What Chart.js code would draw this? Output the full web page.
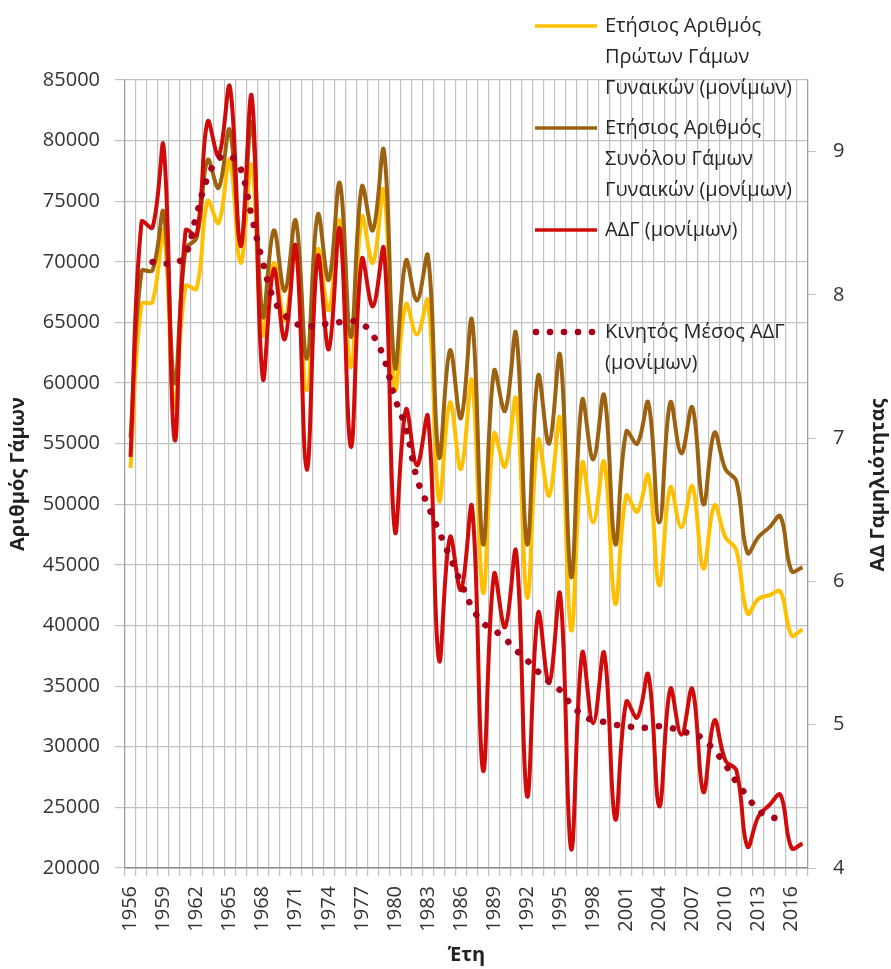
<!DOCTYPE html>
<html>
<head>
<meta charset="utf-8">
<script src="https://cdn.jsdelivr.net/npm/chart.js@4.4.1/dist/chart.umd.min.js"></script>
<style>
  html, body { margin: 0; padding: 0; background: #fff; }
  canvas { display: block; }
</style>
</head>
<body>
<canvas id="chart" width="891" height="969"></canvas>
<script>
// Έτη
const years = [
  '1956','1957','1958','1959','1960','1961','1962','1963','1964','1965',
  '1966','1967','1968','1969','1970','1971','1972','1973','1974','1975',
  '1976','1977','1978','1979','1980','1981','1982','1983','1984','1985',
  '1986','1987','1988','1989','1990','1991','1992','1993','1994','1995',
  '1996','1997','1998','1999','2000','2001','2002','2003','2004','2005',
  '2006','2007','2008','2009','2010','2011','2012','2013','2014','2015',
  '2016','2017'
];

// Πρώτοι γάμοι γυναικών (αριστερός άξονας)
const firstMarriages = [
  53000, 66500, 66700, 72500, 58000, 68000, 67800, 75000, 73200, 78400,
  69900, 78000, 64000, 69900, 65200, 71000, 59400, 71000, 66000, 73400,
  61300, 73700, 69900, 75900, 59500, 66500, 64000, 66800, 50300, 58400,
  52900, 60200, 42700, 55800, 53100, 58700, 42300, 55300, 50700, 57100,
  39600, 53400, 48500, 53500, 41800, 50700, 49400, 52400, 43300, 51400,
  48100, 51500, 44700, 49900, 47300, 46200, 41000, 42200, 42500, 42800,
  39200, 39700
];

// Σύνολο γάμων γυναικών (αριστερός άξονας)
const totalMarriages = [
  55500, 69200, 69300, 74100, 60000, 71000, 72000, 78400, 76100, 80900,
  71500, 81500, 65500, 72600, 67600, 73400, 62000, 73900, 68500, 76500,
  63800, 76200, 72600, 79200, 61300, 70100, 66800, 70500, 53900, 62700,
  57100, 65200, 46700, 61000, 57700, 64100, 46700, 60600, 55000, 62300,
  44000, 58600, 53700, 59000, 46700, 56000, 55000, 58400, 48500, 58400,
  54200, 58000, 50000, 55900, 52900, 51900, 46000, 47300, 48100, 49000,
  44500, 44800
];

// ΑΔΓ (δεξιός άξονας)
const adg = [
  6.87, 8.51, 8.47, 9.04, 6.99, 8.45, 8.42, 9.21, 8.97, 9.46,
  8.34, 9.39, 7.42, 8.18, 7.69, 8.34, 6.78, 8.27, 7.62, 8.46,
  6.94, 8.25, 7.92, 8.32, 6.35, 7.20, 6.81, 7.15, 5.45, 6.31,
  5.94, 6.52, 4.68, 6.05, 5.68, 6.21, 4.50, 5.78, 5.29, 5.91,
  4.13, 5.50, 5.01, 5.50, 4.34, 5.16, 5.05, 5.35, 4.43, 5.25,
  4.93, 5.25, 4.53, 5.03, 4.75, 4.68, 4.15, 4.36, 4.44, 4.51,
  4.14, 4.17
];

// Κινητός μέσος ΑΔΓ (5ετής, κεντρικός)
const adgMovingAvg = [
  null, null, 8.23, 8.22, 8.22, 8.28, 8.56, 8.82, 8.95, 8.97,
  8.88, 8.55, 8.23, 7.97, 7.86, 7.80, 7.78, 7.79, 7.80, 7.81,
  7.82, 7.80, 7.72, 7.56, 7.28, 7.07, 6.72, 6.53, 6.35, 6.17,
  5.99, 5.82, 5.71, 5.66, 5.60, 5.52, 5.45, 5.37, 5.30, 5.24,
  5.14, 5.07, 5.03, 5.02, 5.00, 4.99, 4.98, 4.98, 4.99, 4.98,
  4.95, 4.94, 4.90, 4.82, 4.72, 4.60, 4.50, 4.40, 4.36, 4.34,
  null, null
];

const YELLOW = '#FFC000';
const BROWN = '#9C6210';
const RED = '#D10A0A';
const DARKRED = '#A8001A';
const GRID = '#C2C2C2';
const TEXT = '#333333';
const FONT = '"Open Sans", "Noto Sans", sans-serif';

// Υπόμνημα με αναδίπλωση κειμένου, όπως στο πρωτότυπο
const legendPlugin = {
  id: 'wrappedLegend',
  afterDraw(chart) {
    const ctx = chart.ctx;
    const items = [
      { color: YELLOW, dotted: false, y: 26, lines: ['Ετήσιος Αριθμός', 'Πρώτων Γάμων', 'Γυναικών (μονίμων)'] },
      { color: BROWN, dotted: false, y: 128, lines: ['Ετήσιος Αριθμός', 'Συνόλου Γάμων', 'Γυναικών (μονίμων)'] },
      { color: RED, dotted: false, y: 230, lines: ['ΑΔΓ (μονίμων)'] },
      { color: DARKRED, dotted: true, y: 332, lines: ['Κινητός Μέσος ΑΔΓ', '(μονίμων)'] }
    ];
    ctx.save();
    ctx.beginPath();
    ctx.rect(0, 0, chart.chartArea.right, chart.height);
    ctx.clip();
    items.forEach(it => {
      ctx.strokeStyle = it.color;
      ctx.fillStyle = it.color;
      if (it.dotted) {
        for (let i = 0; i < 5; i++) {
          ctx.beginPath();
          ctx.arc(536 + i * 14, it.y, 3.3, 0, Math.PI * 2);
          ctx.fill();
        }
      } else {
        ctx.lineWidth = 3.5;
        ctx.beginPath();
        ctx.moveTo(535, it.y);
        ctx.lineTo(597, it.y);
        ctx.stroke();
      }
      ctx.fillStyle = '#262626';
      ctx.font = '20px ' + FONT;
      ctx.textBaseline = 'middle';
      ctx.textAlign = 'left';
      it.lines.forEach((t, k) => ctx.fillText(t, 605, it.y + k * 31));
    });
    ctx.restore();

    // τίτλος δεξιού άξονα, διαβάζεται από κάτω προς τα πάνω
    ctx.save();
    ctx.translate(878, 485);
    ctx.rotate(-Math.PI / 2);
    ctx.font = 'bold 20px ' + FONT;
    ctx.fillStyle = '#222';
    ctx.textAlign = 'center';
    ctx.textBaseline = 'middle';
    ctx.fillText('ΑΔ Γαμηλιότητας', 0, 0);
    ctx.restore();
  }
};

const ctx = document.getElementById('chart').getContext('2d');

new Chart(ctx, {
  type: 'line',
  data: {
    labels: years,
    datasets: [
      {
        label: 'Κινητός Μέσος ΑΔΓ (μονίμων)',
        data: adgMovingAvg,
        yAxisID: 'y1',
        borderColor: DARKRED,
        borderWidth: 6.5,
        borderDash: [0.1, 14],
        borderCapStyle: 'round',
        pointRadius: 0,
        tension: 0.4,
        fill: false,
        order: 0
      },
      {
        label: 'ΑΔΓ (μονίμων)',
        data: adg,
        yAxisID: 'y1',
        borderColor: RED,
        borderWidth: 4,
        pointRadius: 0,
        tension: 0.4,
        fill: false,
        order: 1
      },
      {
        label: 'Ετήσιος Αριθμός Συνόλου Γάμων Γυναικών (μονίμων)',
        data: totalMarriages,
        yAxisID: 'y',
        borderColor: BROWN,
        borderWidth: 4,
        pointRadius: 0,
        tension: 0.4,
        fill: false,
        order: 2
      },
      {
        label: 'Ετήσιος Αριθμός Πρώτων Γάμων Γυναικών (μονίμων)',
        data: firstMarriages,
        yAxisID: 'y',
        borderColor: YELLOW,
        borderWidth: 4,
        pointRadius: 0,
        tension: 0.4,
        fill: false,
        order: 3
      }
    ]
  },
  options: {
    responsive: false,
    animation: false,
    layout: { padding: { top: 80, left: 0, right: 0, bottom: 0 } },
    plugins: {
      legend: { display: false },
      tooltip: { enabled: false }
    },
    scales: {
      x: {
        offset: true,
        grid: {
          offset: true,
          color: GRID,
          lineWidth: 1.2,
          tickLength: 8
        },
        border: { color: '#8C8C8C', width: 1.5 },
        ticks: {
          autoSkip: false,
          minRotation: 90,
          maxRotation: 90,
          padding: 10,
          color: TEXT,
          font: { family: FONT, size: 20 },
          callback: function(value, index) {
            return index % 3 === 0 ? this.getLabelForValue(value) : '';
          }
        },
        title: {
          display: true,
          text: 'Έτη',
          color: '#222',
          font: { family: FONT, size: 20, weight: 'bold' },
          padding: { top: 0, bottom: 2 }
        },
        afterFit: s => { s.height = 101; }
      },
      y: {
        position: 'left',
        min: 20000,
        max: 85000,
        grid: { color: GRID, lineWidth: 1.2, tickLength: 10 },
        border: { color: '#A0A0A0', width: 1.2 },
        ticks: {
          stepSize: 5000,
          padding: 15,
          color: TEXT,
          font: { family: FONT, size: 20 },
          callback: v => String(v)
        },
        title: {
          display: true,
          text: 'Αριθμός Γάμων',
          color: '#222',
          font: { family: FONT, size: 20, weight: 'bold' },
          padding: { top: 6, bottom: 0 }
        },
        afterFit: s => { s.width = 125; }
      },
      y1: {
        position: 'right',
        min: 4,
        max: 9.5,
        grid: { drawOnChartArea: false, color: GRID, tickLength: 8 },
        border: { color: '#A0A0A0', width: 1.2 },
        ticks: {
          stepSize: 1,
          padding: 17,
          color: TEXT,
          font: { family: FONT, size: 20 }
        },
        afterBuildTicks: s => { s.ticks = s.ticks.filter(t => Number.isInteger(t.value)); },
        afterFit: s => { s.width = 83; }
      }
    }
  },
  plugins: [legendPlugin]
});
</script>
</body>
</html>
